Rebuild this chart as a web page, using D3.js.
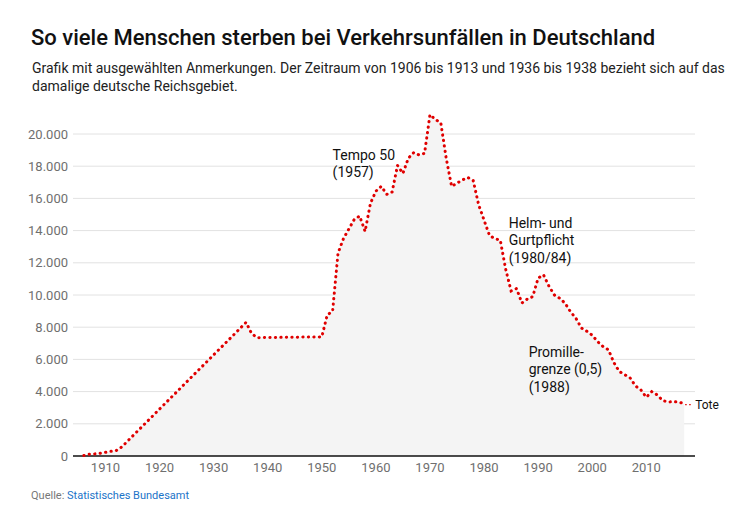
<!DOCTYPE html>
<html>
<head>
<meta charset="utf-8">
<script src="https://cdn.jsdelivr.net/npm/d3@7"></script>
<style>
  html, body { margin: 0; padding: 0; background: #fff; }
  svg { display: block; font-family: Roboto, "Noto Sans", sans-serif; }
</style>
</head>
<body>
<svg id="chart" width="752" height="526"></svg>
<script>
const titleText = "So viele Menschen sterben bei Verkehrsunfällen in Deutschland";
const subtitleLines = [
  "Grafik mit ausgewählten Anmerkungen. Der Zeitraum von 1906 bis 1913 und 1936 bis 1938 bezieht sich auf das",
  "damalige deutsche Reichsgebiet."
];
const years = [1906,1907,1908,1909,1910,1911,1912,1913,
  1936,1937,1938,
  1950,1951,1952,1953,1954,1955,1956,1957,1958,1959,
  1960,1961,1962,1963,1964,1965,1966,1967,1968,1969,
  1970,1971,1972,1973,1974,1975,1976,1977,1978,1979,
  1980,1981,1982,1983,1984,1985,1986,1987,1988,1989,
  1990,1991,1992,1993,1994,1995,1996,1997,1998,1999,
  2000,2001,2002,2003,2004,2005,2006,2007,2008,2009,
  2010,2011,2012,2013,2014,2015,2016,2017];
const deaths = [30,110,130,170,230,290,340,560,
  8300,7620,7350,
  7400,8750,9000,12600,13500,14100,14700,14900,13950,15700,
  16450,16750,16250,16400,18050,17550,18500,18850,18700,18800,
  21200,20900,20700,18500,16750,16950,17150,17300,17100,15600,
  14650,13700,13500,13400,11600,10250,10400,9500,9750,9900,
  11050,11250,10550,10000,9800,9480,8950,8550,7950,7750,
  7500,7100,6800,6600,5800,5250,5050,4850,4350,4100,
  3650,4000,3800,3450,3350,3380,3350,3250];
const xTicks = [1910,1920,1930,1940,1950,1960,1970,1980,1990,2000,2010];
const yTicks = [0,2000,4000,6000,8000,10000,12000,14000,16000,18000,20000];
const seriesLabel = "Tote";
const annotations = [
  {lines: ["Tempo 50", "(1957)"], year: 1952.0, value: 18400},
  {lines: ["Helm- und", "Gurtpflicht", "(1980/84)"], year: 1984.55, value: 14180},
  {lines: ["Promille-", "grenze (0,5)", "(1988)"], year: 1988.25, value: 6170}
];
const sourceLabel = "Quelle: ";
const sourceName = "Statistisches Bundesamt";

const data = years.map((y, i) => ({year: y, value: deaths[i]}));
const svg = d3.select("#chart");

const x = d3.scaleLinear().domain([1904, 2019]).range([73, 695]);
const y = d3.scaleLinear().domain([0, 20000]).range([456, 134]);
const fmt = d3.formatLocale({decimal: ",", thousands: ".", grouping: [3], currency: ["", "€"]}).format(",");

// Title and subtitle
svg.append("text").attr("x", 31).attr("y", 45)
  .attr("font-size", 22).attr("font-weight", 500).attr("fill", "#111")
  .text(titleText);
subtitleLines.forEach((t, i) => {
  svg.append("text").attr("x", 32).attr("y", 73 + i * 18)
    .attr("font-size", 14).attr("fill", "#222").text(t);
});

// Grid lines + y labels
const yAxis = svg.append("g");
yTicks.forEach(t => {
  if (t > 0) {
    yAxis.append("line").attr("x1", 73).attr("x2", 695)
      .attr("y1", y(t)).attr("y2", y(t))
      .attr("stroke", "#e2e2e2").attr("stroke-width", 1);
  }
  yAxis.append("text").attr("x", 68).attr("y", y(t) + 4.5)
    .attr("text-anchor", "end").attr("font-size", 13).attr("fill", "#6f6f6f")
    .text(fmt(t));
});

// Area
const area = d3.area().x(d => x(d.year)).y0(y(0)).y1(d => y(d.value));
svg.append("path").datum(data).attr("d", area).attr("fill", "#f4f4f4");

// Baseline
svg.append("line").attr("x1", 73).attr("x2", 695).attr("y1", y(0)).attr("y2", y(0))
  .attr("stroke", "#111").attr("stroke-width", 1.5);

// X labels
xTicks.forEach(t => {
  svg.append("text").attr("x", x(t)).attr("y", 472)
    .attr("text-anchor", "middle").attr("font-size", 13).attr("fill", "#6f6f6f")
    .text(t);
});

// Line
const line = d3.line().x(d => x(d.year)).y(d => y(d.value));
svg.append("path").datum(data).attr("d", line)
  .attr("fill", "none").attr("stroke", "#e00000").attr("stroke-width", 3)
  .attr("stroke-linecap", "round").attr("stroke-dasharray", "0.3 5.2");

// Label connector and label
const last = data[data.length - 1];
svg.append("line").attr("x1", x(last.year) + 1).attr("x2", x(last.year) + 9)
  .attr("y1", y(last.value) + 1).attr("y2", y(last.value) + 1)
  .attr("stroke", "#e00000").attr("stroke-width", 1.2).attr("stroke-dasharray", "1.5 2.5");
svg.append("text").attr("x", x(last.year) + 11).attr("y", y(last.value) + 5.5)
  .attr("font-size", 12).attr("fill", "#111").text(seriesLabel);

// Annotations
annotations.forEach(a => {
  const g = svg.append("text").attr("font-size", 14).attr("fill", "#111");
  a.lines.forEach((l, i) => {
    g.append("tspan").attr("x", x(a.year)).attr("y", y(a.value) + i * 17.5).text(l);
  });
});

// Source
const src = svg.append("text").attr("x", 31).attr("y", 499).attr("font-size", 11);
src.append("tspan").attr("fill", "#777").text(sourceLabel);
src.append("tspan").attr("fill", "#1a73c8").text(sourceName);
</script>
</body>
</html>
